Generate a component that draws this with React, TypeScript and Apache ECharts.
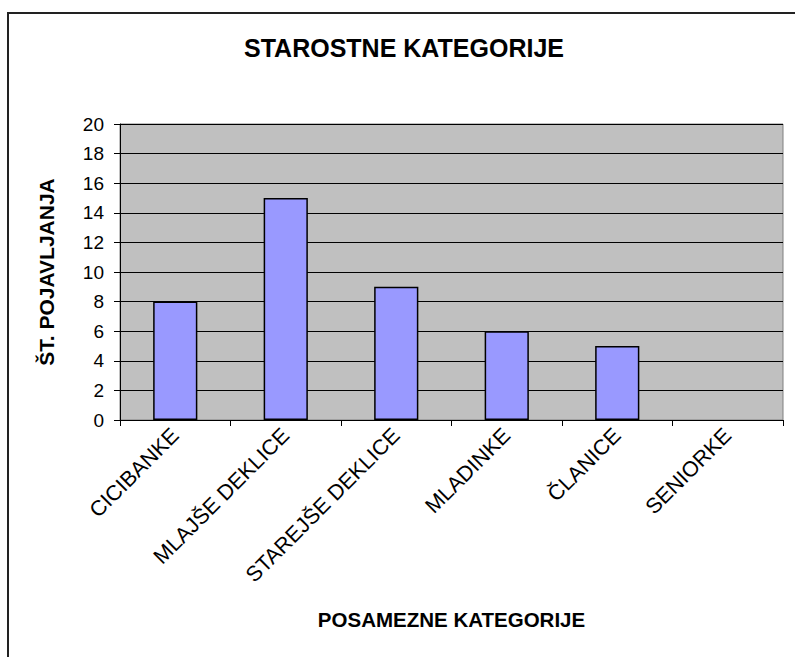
import React, { useEffect, useRef } from "react";
import * as echarts from "echarts";

const categories = ["CICIBANKE", "MLAJŠE DEKLICE", "STAREJŠE DEKLICE", "MLADINKE", "ČLANICE", "SENIORKE"];
const values = [8, 15, 9, 6, 5, 0];
const chartTitle = "STAROSTNE KATEGORIJE";
const yName = "ŠT. POJAVLJANJA";
const xName = "POSAMEZNE KATEGORIJE";

const FONT = "'Liberation Sans', Arial, sans-serif";

export default function App() {
  const ref = useRef<HTMLDivElement>(null);
  useEffect(() => {
    if (!ref.current) return;
    const chart = echarts.init(ref.current, undefined, { renderer: "svg" });
    chart.setOption({
      animation: false,
      backgroundColor: "#ffffff",
      graphic: [
        {
          type: "rect",
          shape: { x: 8, y: 13, width: 800, height: 660 },
          style: { fill: "none", stroke: "#222", lineWidth: 2 },
          silent: true,
        },
        {
          type: "text",
          x: 404,
          y: 48,
          style: {
            text: chartTitle,
            font: `bold 25px ${FONT}`,
            fill: "#000",
            textAlign: "center",
            textVerticalAlign: "middle",
          },
        },
      ],
      grid: {
        left: 120,
        top: 124,
        width: 663,
        height: 296,
        show: true,
        backgroundColor: "#C0C0C0",
        borderColor: "#808080",
        borderWidth: 1,
      },
      xAxis: {
        type: "category",
        data: categories,
        name: xName,
        nameLocation: "middle",
        nameGap: 189,
        nameTextStyle: { fontFamily: FONT, fontWeight: "bold", fontSize: 20.5, color: "#000" },
        axisLine: { show: true, lineStyle: { color: "#000", width: 1 } },
        axisTick: { show: true, length: 6, lineStyle: { color: "#000" } },
        axisLabel: {
          rotate: 45,
          interval: 0,
          margin: 12,
          fontFamily: FONT,
          fontSize: 21.5,
          color: "#000",
        },
        splitLine: { show: false },
      },
      yAxis: {
        type: "value",
        min: 0,
        max: 20,
        interval: 2,
        name: yName,
        nameLocation: "middle",
        nameRotate: 90,
        nameGap: 63,
        nameTextStyle: { fontFamily: FONT, fontWeight: "bold", fontSize: 21, color: "#000" },
        axisLine: { show: true, lineStyle: { color: "#000", width: 1 } },
        axisTick: { show: true, length: 6, lineStyle: { color: "#000" } },
        axisLabel: { margin: 16, fontFamily: FONT, fontSize: 19, color: "#000" },
        splitLine: { show: true, lineStyle: { color: "#000", width: 1 } },
      },
      series: [
        {
          type: "bar",
          data: values.map((v) =>
            v === 0 ? { value: v, itemStyle: { borderWidth: 0, opacity: 0 } } : v
          ),
          barWidth: "40%",
          itemStyle: { color: "#9999FF", borderColor: "#000", borderWidth: 1.5 },
        },
      ],
    });
    return () => chart.dispose();
  }, []);
  return (
    <div
      ref={ref}
      style={{ position: "fixed", left: 0, top: 0, width: 795, height: 657 }}
    />
  );
}
